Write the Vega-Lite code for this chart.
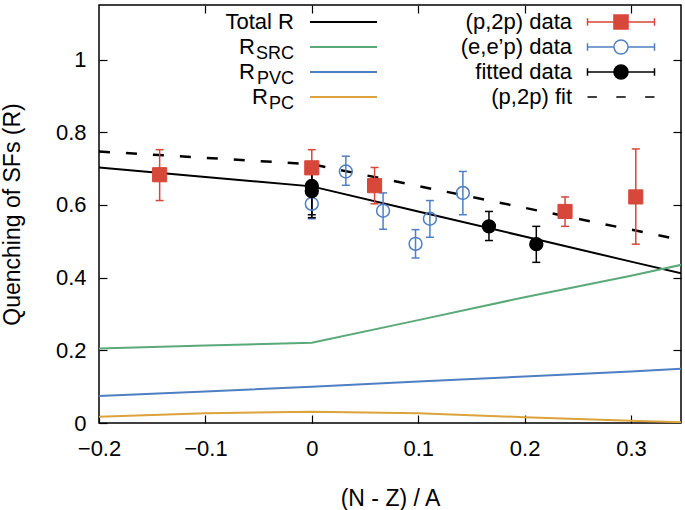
{
  "$schema": "https://vega.github.io/schema/vega-lite/v6.json",
  "width": 582,
  "height": 418,
  "autosize": {"type": "none"},
  "padding": {"left": 99, "top": 5, "right": 4, "bottom": 87},
  "config": {
    "font": "Liberation Sans",
    "view": {"stroke": "black", "strokeWidth": 1.5},
    "axis": {
      "grid": false, "domain": false, "tickColor": "black", "labelColor": "black", "titleColor": "black",
      "labelFont": "Liberation Sans", "titleFont": "Liberation Sans", "labelFontSize": 22, "titleFontSize": 23,
      "titleFontWeight": "normal", "tickSize": -8, "tickWidth": 1.2, "labelFlush": false, "labelOverlap": false
    },
    "legend": {"labelFont": "Liberation Sans", "labelColor": "black"}
  },
  "data": {
    "values": [
      {"series": "Total R", "x": -0.2, "y": 0.703},
      {"series": "Total R", "x": -0.1, "y": 0.677},
      {"series": "Total R", "x": 0, "y": 0.651},
      {"series": "Total R", "x": 0.1, "y": 0.582},
      {"series": "Total R", "x": 0.2, "y": 0.513},
      {"series": "Total R", "x": 0.3, "y": 0.444},
      {"series": "Total R", "x": 0.35, "y": 0.41},
      {"series": "R_SRC", "x": -0.2, "y": 0.205},
      {"series": "R_SRC", "x": -0.1, "y": 0.213},
      {"series": "R_SRC", "x": 0, "y": 0.221},
      {"series": "R_SRC", "x": 0.1, "y": 0.283},
      {"series": "R_SRC", "x": 0.2, "y": 0.346},
      {"series": "R_SRC", "x": 0.3, "y": 0.405},
      {"series": "R_SRC", "x": 0.35, "y": 0.437},
      {"series": "R_PVC", "x": -0.2, "y": 0.074},
      {"series": "R_PVC", "x": -0.1, "y": 0.087},
      {"series": "R_PVC", "x": 0, "y": 0.1},
      {"series": "R_PVC", "x": 0.1, "y": 0.114},
      {"series": "R_PVC", "x": 0.2, "y": 0.128},
      {"series": "R_PVC", "x": 0.3, "y": 0.142},
      {"series": "R_PVC", "x": 0.35, "y": 0.15},
      {"series": "R_PC", "x": -0.2, "y": 0.017},
      {"series": "R_PC", "x": -0.1, "y": 0.027},
      {"series": "R_PC", "x": 0, "y": 0.031},
      {"series": "R_PC", "x": 0.1, "y": 0.027},
      {"series": "R_PC", "x": 0.2, "y": 0.016},
      {"series": "R_PC", "x": 0.3, "y": 0.006},
      {"series": "R_PC", "x": 0.35, "y": 0.002},
      {"series": "(p,2p) fit", "x": -0.2, "y": 0.747},
      {"series": "(p,2p) fit", "x": 0, "y": 0.712},
      {"series": "(p,2p) fit", "x": 0.35, "y": 0.502},
      {"series": "(p,2p) data", "x": -0.143, "y": 0.683, "lo": 0.612, "hi": 0.752},
      {"series": "(p,2p) data", "x": 0, "y": 0.702, "lo": 0.652, "hi": 0.752},
      {"series": "(p,2p) data", "x": 0.059, "y": 0.653, "lo": 0.603, "hi": 0.703},
      {"series": "(p,2p) data", "x": 0.238, "y": 0.582, "lo": 0.541, "hi": 0.622},
      {"series": "(p,2p) data", "x": 0.3045, "y": 0.622, "lo": 0.492, "hi": 0.754},
      {"series": "(e,e’p) data", "x": 0, "y": 0.603, "lo": 0.562, "hi": 0.643},
      {"series": "(e,e’p) data", "x": 0.032, "y": 0.692, "lo": 0.654, "hi": 0.734},
      {"series": "(e,e’p) data", "x": 0.067, "y": 0.584, "lo": 0.533, "hi": 0.633},
      {"series": "(e,e’p) data", "x": 0.0975, "y": 0.493, "lo": 0.454, "hi": 0.532},
      {"series": "(e,e’p) data", "x": 0.111, "y": 0.562, "lo": 0.511, "hi": 0.612},
      {"series": "(e,e’p) data", "x": 0.142, "y": 0.633, "lo": 0.573, "hi": 0.692},
      {"series": "fitted data", "x": 0, "y": 0.652, "lo": 0.573, "hi": 0.711},
      {"series": "fitted data", "x": 0, "y": 0.638, "lo": 0.565, "hi": 0.7},
      {"series": "fitted data", "x": 0.1665, "y": 0.541, "lo": 0.502, "hi": 0.582},
      {"series": "fitted data", "x": 0.211, "y": 0.492, "lo": 0.442, "hi": 0.541}
    ]
  },
  "layer": [
    {
      "transform": [{"filter": "indexof(['(p,2p) data','(e,e’p) data','fitted data','(p,2p) fit'], datum.series) >= 0"}],
      "mark": {"type": "point", "opacity": 0, "size": 10},
      "encoding": {
        "x": {"field": "x", "type": "quantitative", "scale": {"domain": [-0.2, 0.347], "nice": false, "zero": false}, "axis": null},
        "y": {"field": "y", "type": "quantitative", "scale": {"domain": [0, 1.15], "nice": false, "zero": false}, "axis": null},
        "shape": {"field": "series", "type": "nominal",
          "scale": {"domain": ["(p,2p) data", "(e,e’p) data", "fitted data", "(p,2p) fit"],
            "range": [
              "M-1,-0.11V0.11M-1,0H1M1,-0.11V0.11M-0.21,-0.21H0.21V0.21H-0.21Z",
              "M-1,-0.11V0.11M-1,0H-0.21M0.21,0H1M1,-0.11V0.11M-0.21,0A0.21,0.21,0,1,1,0.21,0A0.21,0.21,0,1,1,-0.21,0Z",
              "M-1,-0.11V0.11M-1,0H-0.21M0.21,0H1M1,-0.11V0.11M-0.21,0A0.21,0.21,0,1,1,0.21,0A0.21,0.21,0,1,1,-0.21,0Z",
              "M-1,0H-0.72M-0.14,0H0.14M0.72,0H1"
            ]},
          "legend": {"orient": "none", "legendX": 487.5, "legendY": 6, "title": null, "symbolSize": 4489,
            "symbolStrokeWidth": 1.5, "symbolOpacity": 1, "labelAlign": "right", "labelOffset": -83.5, "labelFontSize": 22,
            "labelLimit": 400, "rowPadding": 3, "padding": 0,
            "encode": {"symbols": {"update": {"y": {"value": 11}}}, "labels": {"update": {"y": {"value": 11}}}}}},
        "fill": {"field": "series", "type": "nominal",
          "scale": {"domain": ["(p,2p) data", "(e,e’p) data", "fitted data", "(p,2p) fit"], "range": ["#d7473a", "transparent", "#000000", "transparent"]},
          "legend": {"orient": "none", "legendX": 487.5, "legendY": 6, "title": null, "symbolSize": 4489,
            "symbolStrokeWidth": 1.5, "symbolOpacity": 1, "labelAlign": "right", "labelOffset": -83.5, "labelFontSize": 22,
            "labelLimit": 400, "rowPadding": 3, "padding": 0,
            "encode": {"symbols": {"update": {"y": {"value": 11}}}, "labels": {"update": {"y": {"value": 11}}}}}},
        "stroke": {"field": "series", "type": "nominal",
          "scale": {"domain": ["(p,2p) data", "(e,e’p) data", "fitted data", "(p,2p) fit"], "range": ["#d7473a", "#4f7fc3", "#000000", "#000000"]},
          "legend": {"orient": "none", "legendX": 487.5, "legendY": 6, "title": null, "symbolSize": 4489,
            "symbolStrokeWidth": 1.5, "symbolOpacity": 1, "labelAlign": "right", "labelOffset": -83.5, "labelFontSize": 22,
            "labelLimit": 400, "rowPadding": 3, "padding": 0,
            "encode": {"symbols": {"update": {"y": {"value": 11}}}, "labels": {"update": {"y": {"value": 11}}}}}}
      }
    },
    {
      "transform": [{"filter": "indexof(['R_SRC','R_PVC','R_PC'], datum.series) >= 0"}],
      "mark": {"type": "point", "opacity": 0, "size": 10},
      "encoding": {
        "x": {"field": "x", "type": "quantitative", "axis": null},
        "y": {"field": "y", "type": "quantitative", "axis": null},
        "strokeDash": {"field": "series", "type": "nominal",
          "scale": {"domain": ["R_SRC", "R_PVC", "R_PC"], "range": [[1, 0], [1, 0], [1, 0]]},
          "legend": {"orient": "none", "legendX": 210, "legendY": 36, "title": null, "symbolType": "stroke",
            "symbolSize": 4489, "symbolStrokeWidth": 2, "symbolOpacity": 0, "labelAlign": "right", "labelOffset": -84,
            "labelFontSize": 18, "labelLimit": 400, "rowPadding": 0, "padding": 0, "clipHeight": 25,
            "labelExpr": "datum.value == 'R_SRC' ? 'SRC' : datum.value == 'R_PVC' ? 'PVC' : 'PC'"}}
      }
    },
    {
      "transform": [{"filter": "indexof(['Total R','R_SRC','R_PVC','R_PC'], datum.series) >= 0"}],
      "mark": {"type": "line", "strokeWidth": 2, "clip": true},
      "encoding": {
        "x": {"field": "x", "type": "quantitative",
          "axis": {"orient": "bottom", "values": [-0.2, -0.1, 0, 0.1, 0.2, 0.3], "format": "~g", "labelPadding": 23,
            "title": "(N - Z) / A", "titleY": 82, "titleBaseline": "alphabetic"}},
        "y": {"field": "y", "type": "quantitative",
          "axis": {"orient": "left", "values": [0, 0.2, 0.4, 0.6, 0.8, 1], "format": "~g", "labelPadding": 21,
            "title": "Quenching of SFs (R)", "titleX": -80, "titleY": 209, "titleBaseline": "alphabetic"}},
        "color": {"field": "series", "type": "nominal",
          "scale": {"domain": ["Total R", "R_SRC", "R_PVC", "R_PC"], "range": ["#000000", "#5aa979", "#4f7fc3", "#dca23c"]},
          "legend": {"orient": "none", "legendX": 210, "legendY": 6, "title": null, "symbolType": "stroke",
            "symbolSize": 4489, "symbolStrokeWidth": 2, "symbolOpacity": 1, "labelAlign": "right", "labelOffset": -84, "labelFontSize": 22,
            "labelLimit": 400, "rowPadding": 3, "padding": 0,
            "labelExpr": "datum.value == 'Total R' ? 'Total R' : 'R'",
            "encode": {
              "symbols": {"update": {"y": {"value": 11}}},
              "labels": {"update": {"y": {"value": 11}, "dx": {"signal": "datum.value == 'Total R' ? 0 : datum.value == 'R_PC' ? -26 : -39"}}}}}}
      }
    },
    {
      "transform": [{"filter": "datum.series == '(p,2p) fit'"}],
      "mark": {"type": "line", "strokeWidth": 2.5, "strokeDash": [11, 16], "color": "black", "clip": true},
      "encoding": {
        "x": {"field": "x", "type": "quantitative",
          "axis": {"orient": "top", "values": [-0.1, 0, 0.1, 0.2, 0.3], "labels": false, "title": null}},
        "y": {"field": "y", "type": "quantitative",
          "axis": {"orient": "right", "values": [0.2, 0.4, 0.6, 0.8, 1], "labels": false, "title": null}}
      }
    },
    {
      "transform": [{"filter": "isValid(datum.lo)"}],
      "mark": {"type": "rule", "strokeWidth": 1.5},
      "encoding": {
        "x": {"field": "x", "type": "quantitative", "axis": null},
        "y": {"field": "lo", "type": "quantitative", "axis": null},
        "y2": {"field": "hi"},
        "stroke": {"field": "series", "type": "nominal",
          "scale": {"domain": ["(p,2p) data", "(e,e’p) data", "fitted data", "(p,2p) fit"], "range": ["#d7473a", "#4f7fc3", "#000000", "#000000"]}}
      }
    },
    {
      "transform": [{"filter": "isValid(datum.lo)"}],
      "mark": {"type": "rule", "strokeWidth": 1.5, "xOffset": -4, "x2Offset": 4},
      "encoding": {
        "x": {"field": "x", "type": "quantitative", "axis": null},
        "x2": {"field": "x"},
        "y": {"field": "lo", "type": "quantitative", "axis": null},
        "stroke": {"field": "series", "type": "nominal",
          "scale": {"domain": ["(p,2p) data", "(e,e’p) data", "fitted data", "(p,2p) fit"], "range": ["#d7473a", "#4f7fc3", "#000000", "#000000"]}}
      }
    },
    {
      "transform": [{"filter": "isValid(datum.lo)"}],
      "mark": {"type": "rule", "strokeWidth": 1.5, "xOffset": -4, "x2Offset": 4},
      "encoding": {
        "x": {"field": "x", "type": "quantitative", "axis": null},
        "x2": {"field": "x"},
        "y": {"field": "hi", "type": "quantitative", "axis": null},
        "stroke": {"field": "series", "type": "nominal",
          "scale": {"domain": ["(p,2p) data", "(e,e’p) data", "fitted data", "(p,2p) fit"], "range": ["#d7473a", "#4f7fc3", "#000000", "#000000"]}}
      }
    },
    {
      "transform": [{"filter": "datum.series == '(p,2p) data'"}],
      "mark": {"type": "point", "shape": "square", "size": 200, "strokeWidth": 1, "opacity": 1},
      "encoding": {
        "x": {"field": "x", "type": "quantitative", "axis": null},
        "y": {"field": "y", "type": "quantitative", "axis": null},
        "fill": {"field": "series", "type": "nominal",
          "scale": {"domain": ["(p,2p) data", "(e,e’p) data", "fitted data", "(p,2p) fit"], "range": ["#d7473a", "transparent", "#000000", "transparent"]}},
        "stroke": {"field": "series", "type": "nominal",
          "scale": {"domain": ["(p,2p) data", "(e,e’p) data", "fitted data", "(p,2p) fit"], "range": ["#d7473a", "#4f7fc3", "#000000", "#000000"]}}
      }
    },
    {
      "transform": [{"filter": "datum.series == '(e,e’p) data' || datum.series == 'fitted data'"}],
      "mark": {"type": "point", "shape": "circle", "size": 165, "strokeWidth": 1.5, "opacity": 1},
      "encoding": {
        "x": {"field": "x", "type": "quantitative", "axis": null},
        "y": {"field": "y", "type": "quantitative", "axis": null},
        "fill": {"field": "series", "type": "nominal",
          "scale": {"domain": ["(p,2p) data", "(e,e’p) data", "fitted data", "(p,2p) fit"], "range": ["#d7473a", "transparent", "#000000", "transparent"]}},
        "stroke": {"field": "series", "type": "nominal",
          "scale": {"domain": ["(p,2p) data", "(e,e’p) data", "fitted data", "(p,2p) fit"], "range": ["#d7473a", "#4f7fc3", "#000000", "#000000"]}}
      }
    }
  ],
  "resolve": {"axis": {"x": "independent", "y": "independent"}}
}
